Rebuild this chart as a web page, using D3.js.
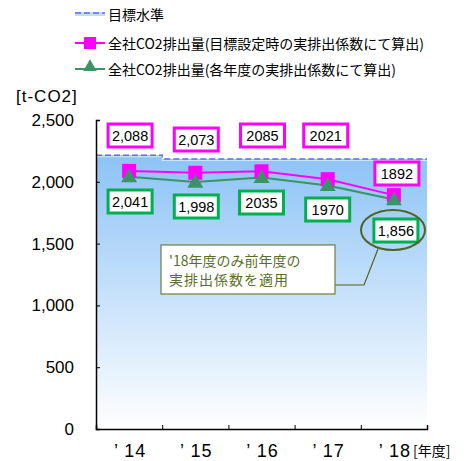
<!DOCTYPE html>
<html><head><meta charset="utf-8">
<script src="https://cdn.jsdelivr.net/npm/d3@7"></script>
<style>body{margin:0;background:#fff}svg{display:block}</style>
</head><body>
<script>
const years = ["’14","’15","’16","’17","’18"];
const targetValues = [2215, 2185, 2185, 2185, 2185];
const plannedValues = [2088, 2073, 2085, 2021, 1892];
const actualValues = [2041, 1998, 2035, 1970, 1856];
const plannedLabels = ["2,088","2,073","2085","2021","1892"];
const actualLabels = ["2,041","1,998","2035","1970","1,856"];
const yTicks = [0, 500, 1000, 1500, 2000, 2500];
const legendLabels = ["目標水準","全社CO2排出量(目標設定時の実排出係数にて算出)","全社CO2排出量(各年度の実排出係数にて算出)"];

const W = 476, H = 461;
const svg = d3.select("body").append("svg").attr("width", W).attr("height", H);
const jp = "'Noto Sans CJK JP', sans-serif";
const num = "'Liberation Sans', Arial, sans-serif";

const x = d3.scaleBand().domain(years).range([96, 427]);
const y = d3.scaleLinear().domain([0, 2500]).range([429, 120]);

const defs = svg.append("defs");
const grad = defs.append("linearGradient").attr("id","bg").attr("x1",0).attr("y1",0).attr("x2",0).attr("y2",1);
grad.append("stop").attr("offset","0%").attr("stop-color","#8cc3f6");
grad.append("stop").attr("offset","100%").attr("stop-color","#ffffff");

// filled area under target level (step)
const stepPts = [];
years.forEach((yr,i)=>{ stepPts.push([x(yr), y(targetValues[i])]); stepPts.push([x(yr)+x.bandwidth(), y(targetValues[i])]); });
const areaPath = "M" + [[x.range()[0], y(0)], ...stepPts, [x.range()[1], y(0)]].map(p=>p.join(",")).join("L") + "Z";
svg.append("path").attr("d", areaPath).attr("fill","url(#bg)");

// target dashed line
svg.append("path").attr("d", "M" + stepPts.map(p=>p.join(",")).join("L"))
  .attr("fill","none").attr("stroke","#5b6bf0").attr("stroke-width",1.6).attr("stroke-dasharray","6,3");
svg.append("path").attr("d", "M" + stepPts.map(p=>[p[0],p[1]+1.5].join(",")).join("L"))
  .attr("fill","none").attr("stroke","#ffffff").attr("stroke-width",1).attr("opacity",0.6);

// axes
const yAxis = d3.axisLeft(y).tickValues(yTicks).tickSize(-4).tickPadding(22).tickFormat(d3.format(","));
const gy = svg.append("g").attr("transform","translate(96,0)").call(yAxis);
gy.select(".domain").attr("stroke","#000").attr("stroke-width",1.5);
gy.selectAll(".tick line").attr("stroke","#000");
gy.selectAll("text").attr("font-family", num).attr("font-size", 17).attr("fill","#000").attr("dx", 0);

const xAxis = d3.axisBottom(d3.scaleLinear().domain([0,5]).range([96,427])).tickValues([1,2,3,4,5]).tickSize(-4).tickFormat("");
const gx = svg.append("g").attr("transform","translate(0,429)").call(xAxis);
gx.select(".domain").attr("stroke","#000").attr("stroke-width",1.5);
gx.selectAll(".tick line").attr("stroke","#000");
svg.append("g").selectAll("text").data(years).join("text")
  .attr("x", d=>x(d)+x.bandwidth()/2+1).attr("y", 457)
  .attr("text-anchor","middle").attr("font-family", num).attr("font-size", 18).attr("letter-spacing", 1)
  .text(d=>d.replace("’","’ "));
svg.append("text").attr("x", 413).attr("y", 456).attr("font-family", jp).attr("font-size", 14).text("[年度]");
svg.append("text").attr("x", 16).attr("y", 102).attr("font-family", num).attr("font-size", 17).attr("letter-spacing",1).text("[t-CO2]");

const cx = d => x(d) + x.bandwidth()/2;

// lines
const line = d3.line();
svg.append("path").attr("d", line(years.map((d,i)=>[cx(d), y(plannedValues[i])])))
  .attr("fill","none").attr("stroke","#ff00ff").attr("stroke-width",2);
svg.append("path").attr("d", line(years.map((d,i)=>[cx(d), y(actualValues[i])])))
  .attr("fill","none").attr("stroke","#3a9467").attr("stroke-width",2);

// markers
svg.append("g").selectAll("rect").data(plannedValues).join("rect")
  .attr("x",(d,i)=>cx(years[i])-7).attr("y",d=>y(d)-7).attr("width",14).attr("height",14).attr("fill","#ff00ff");
const tri = d3.symbol().type(d3.symbolTriangle).size(110);
svg.append("g").selectAll("path").data(actualValues).join("path")
  .attr("d", tri).attr("transform",(d,i)=>`translate(${cx(years[i])},${y(d)+1})`).attr("fill","#3a9467");

// label boxes
const plannedBoxTop = [124, 128, 124, 124, 162];
const actualBoxTop = [190, 195, 191, 198, 219];
function boxes(labels, tops, stroke, dxs){
  const g = svg.append("g");
  labels.forEach((t,i)=>{
    const c = cx(years[i]) + dxs[i];
    g.append("rect").attr("x", c-22).attr("y", tops[i]).attr("width", 44).attr("height", 23)
      .attr("fill","#fff").attr("stroke", stroke).attr("stroke-width", 3);
    g.append("text").attr("x", c).attr("y", tops[i]+17).attr("text-anchor","middle")
      .attr("font-family", num).attr("font-size", 14.5).attr("fill","#000").text(t);
  });
}
boxes(plannedLabels, plannedBoxTop, "#ff00ff", [1, 1, 1, -2, 3]);
boxes(actualLabels, actualBoxTop, "#00b050", [1, 1, 0, 0, 2]);

// callout
svg.append("ellipse").attr("cx", 393).attr("cy", 230).attr("rx", 32).attr("ry", 20)
  .attr("fill","none").attr("stroke","#4f6228").attr("stroke-width",2);
svg.append("path").attr("d","M335,285L364,285L378,249").attr("fill","none").attr("stroke","#4f6228").attr("stroke-width",1.2);
svg.append("rect").attr("x",161).attr("y",245).attr("width",174).attr("height",49)
  .attr("fill","#fff").attr("stroke","#6e7f3a").attr("stroke-width",1.2);
svg.append("text").attr("x",169).attr("y",266).attr("font-family", jp).attr("font-size",14).attr("fill","#5a6e2a").text("'18年度のみ前年度の");
svg.append("text").attr("x",169).attr("y",285).attr("font-family", jp).attr("font-size",14).attr("fill","#5a6e2a").attr("letter-spacing",1).text("実排出係数を適用");

// legend
const lg = svg.append("g");
lg.append("line").attr("x1",75).attr("x2",105).attr("y1",14).attr("y2",14).attr("stroke","#c8dcf6").attr("stroke-width",4);
lg.append("line").attr("x1",75).attr("x2",105).attr("y1",13).attr("y2",13).attr("stroke","#5b6bf0").attr("stroke-width",1.5).attr("stroke-dasharray","6,3");
lg.append("line").attr("x1",75).attr("x2",105).attr("y1",43).attr("y2",43).attr("stroke","#ff00ff").attr("stroke-width",2);
lg.append("rect").attr("x",84).attr("y",37).attr("width",12).attr("height",12).attr("fill","#ff00ff");
lg.append("line").attr("x1",75).attr("x2",105).attr("y1",69).attr("y2",69).attr("stroke","#3a9467").attr("stroke-width",2);
lg.append("path").attr("d", d3.symbol().type(d3.symbolTriangle).size(80)).attr("transform","translate(90,67)").attr("fill","#3a9467");
legendLabels.forEach((t,i)=>{
  lg.append("text").attr("x",108).attr("y",[20,49,75][i]).attr("font-family", jp).attr("font-size",14).attr("fill","#000").text(t);
});
</script>
</body></html>
